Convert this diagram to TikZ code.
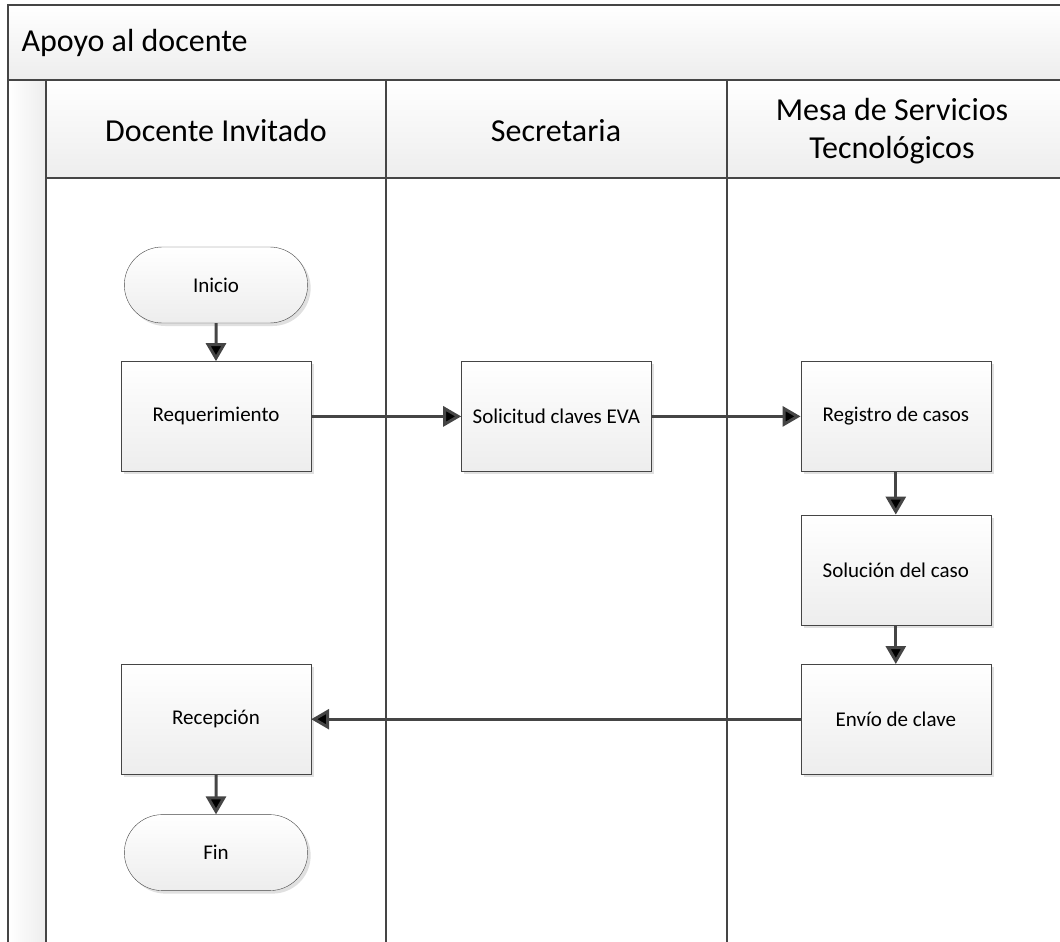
\documentclass[tikz,border=0pt]{standalone}
\usepackage{fontspec}
\setmainfont{Carlito}
\usetikzlibrary{arrows.meta,positioning,shapes.misc,shadows}
\definecolor{linegray}{HTML}{454545}
\definecolor{fillgray}{HTML}{EDEDED}
\tikzstyle{process} = [rectangle,
                      minimum width=190pt,
                      minimum height=110pt,
                      draw=linegray,
                      top color=white,
                      bottom color=fillgray,
                      drop shadow={shadow xshift=3pt,shadow yshift=-3pt,fill=black!12,opacity=1},
                      font=\fontsize{21}{25}\selectfont]
\tikzstyle{terminal} = [rounded rectangle,
                       minimum width=190pt,
                       minimum height=76pt,
                       draw=linegray,
                       top color=white,
                       bottom color=fillgray,
                       drop shadow={shadow xshift=3pt,shadow yshift=-3pt,fill=black!12,opacity=1},
                       font=\fontsize{21}{25}\selectfont]
\tikzstyle{lane} = [draw=linegray, line width=2.2pt]
\tikzstyle{header} = [align=center, font=\fontsize{32}{38}\selectfont]
\tikzstyle{flow} = [draw=linegray,
                   line width=3pt,
                   -{Triangle[length=18pt,width=20pt]}]

\begin{document}
\begin{tikzpicture}[x=1pt,y=-1pt]
    \useasboundingbox (0,0) rectangle (1060,942);
    % pool and lanes
    \shade[top color=white,bottom color=fillgray] (8,5) rectangle (1060,80);
    \shade[left color=white,right color=fillgray] (8,80) rectangle (46,942);
    \shade[top color=white,bottom color=fillgray] (46,80) rectangle (1060,178);
    \draw[lane] (8,942) -- (8,5) -- (1060,5);
    \draw[lane] (8,80) -- (1060,80);
    \draw[lane] (46,178) -- (1060,178);
    \foreach \x in {46,386,727}
      \draw[lane] (\x,80) -- (\x,942);
    \node (pool) [anchor=west, font=\fontsize{32}{38}\selectfont] at (18,43) {Apoyo al docente};
    \node (docente) [header] at (216,131) {Docente Invitado};
    \node (secretaria) [header] at (556,131) {Secretaria};
    \node (mesa) [header] at (892,131) {Mesa de Servicios\\Tecnológicos};
    % steps
    \node (inicio) at (216,285) [terminal] {Inicio};
    \node (req) [below=38pt of inicio] [process] {Requerimiento};
    \node (sol) [right=150pt of req] [process] {Solicitud claves EVA};
    \node (reg) [right=149pt of sol] [process] {Registro de casos};
    \node (caso) [below=43pt of reg] [process] {Solución del caso};
    \node (envio) [below=39pt of caso] [process] {Envío de clave};
    \node (rec) at (req |- envio) [process] {Recepción};
    \node (fin) [below=40pt of rec] [terminal] {Fin};
    \path[flow]
      (inicio) edge (req)
      (req) edge (sol)
      (sol) edge (reg)
      (reg) edge (caso)
      (caso) edge (envio)
      (envio) edge (rec)
      (rec) edge (fin);
\end{tikzpicture}
\end{document}
